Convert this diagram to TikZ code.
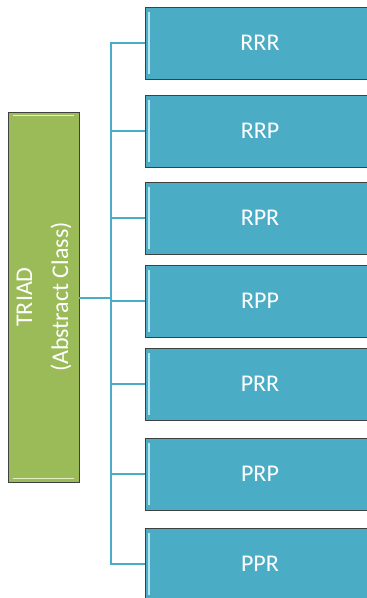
\documentclass[tikz,border=0pt]{standalone}
\usepackage{fontspec}
\setmainfont{Carlito}
\usetikzlibrary{shadows}
\definecolor{boxblue}{HTML}{4BACC6}
\definecolor{boxgreen}{HTML}{9BBB59}
\definecolor{hiblue}{HTML}{B4E6F2}
\definecolor{higreen}{HTML}{E4F0C4}
\begin{document}
\begin{tikzpicture}[x=1pt,y=-1pt,
  leaf/.style={rectangle, fill=boxblue, draw=black!75, line width=0.8pt,
    minimum width=230pt, minimum height=72pt, inner sep=0pt,
    text=white, font=\fontsize{24}{29}\selectfont,
    drop shadow={shadow xshift=1.2pt, shadow yshift=-1.2pt, fill=black!35, opacity=1}},
  root/.style={rectangle, fill=boxgreen, draw=black!75, line width=0.8pt,
    minimum width=71pt, minimum height=370pt, inner sep=0pt,
    drop shadow={shadow xshift=1.2pt, shadow yshift=-1.2pt, fill=black!35, opacity=1}},
  conn/.style={draw=boxblue, line width=2pt},
  hib/.style={draw=hiblue, line width=1.6pt},
  hig/.style={draw=higreen, line width=1.6pt}]
\useasboundingbox (0,0) rectangle (367,598);
\begin{scope}
\clip (0,0) rectangle (367,598);
\node[root] (g) at (43.5,297) {};
\node[rotate=90, text=white, align=center, font=\fontsize{24}{36}\selectfont] (gt) at (44,297) {TRIAD\\(Abstract Class)};
\node[leaf] (b1) at (260,43) {RRR};
\node[leaf] (b2) at (260,131) {RRP};
\node[leaf] (b3) at (260,218) {RPR};
\node[leaf] (b4) at (260,301) {RPP};
\node[leaf] (b5) at (260,384) {PRR};
\node[leaf] (b6) at (260,474) {PRP};
\node[leaf] (b7) at (260,564) {PPR};
\foreach \b in {b1,b2,b3,b4,b5,b6,b7}{
  \draw[hib] ([shift={(4.5pt,-5pt)}]\b.north west) -- ([shift={(4.5pt,5pt)}]\b.south west);
}
\draw[hig] ([shift={(5pt,-4pt)}]g.north west) -- ([shift={(-5pt,-4pt)}]g.north east);
\draw[hig] ([shift={(5pt,4pt)}]g.south west) -- ([shift={(-5pt,4pt)}]g.south east);
\coordinate (ttop) at (111,42);
\coordinate (tbot) at (111,565);
\draw[conn] (ttop) -- (tbot);
\draw[conn] ([yshift=-1pt]g.east) -- ([yshift=-1pt]g.east -| ttop);
\foreach \b in {b1,b2,b3,b4,b5,b6,b7}{
  \draw[conn] (\b.west) -- (\b.west -| ttop);
}
\end{scope}
\end{tikzpicture}
\end{document}
